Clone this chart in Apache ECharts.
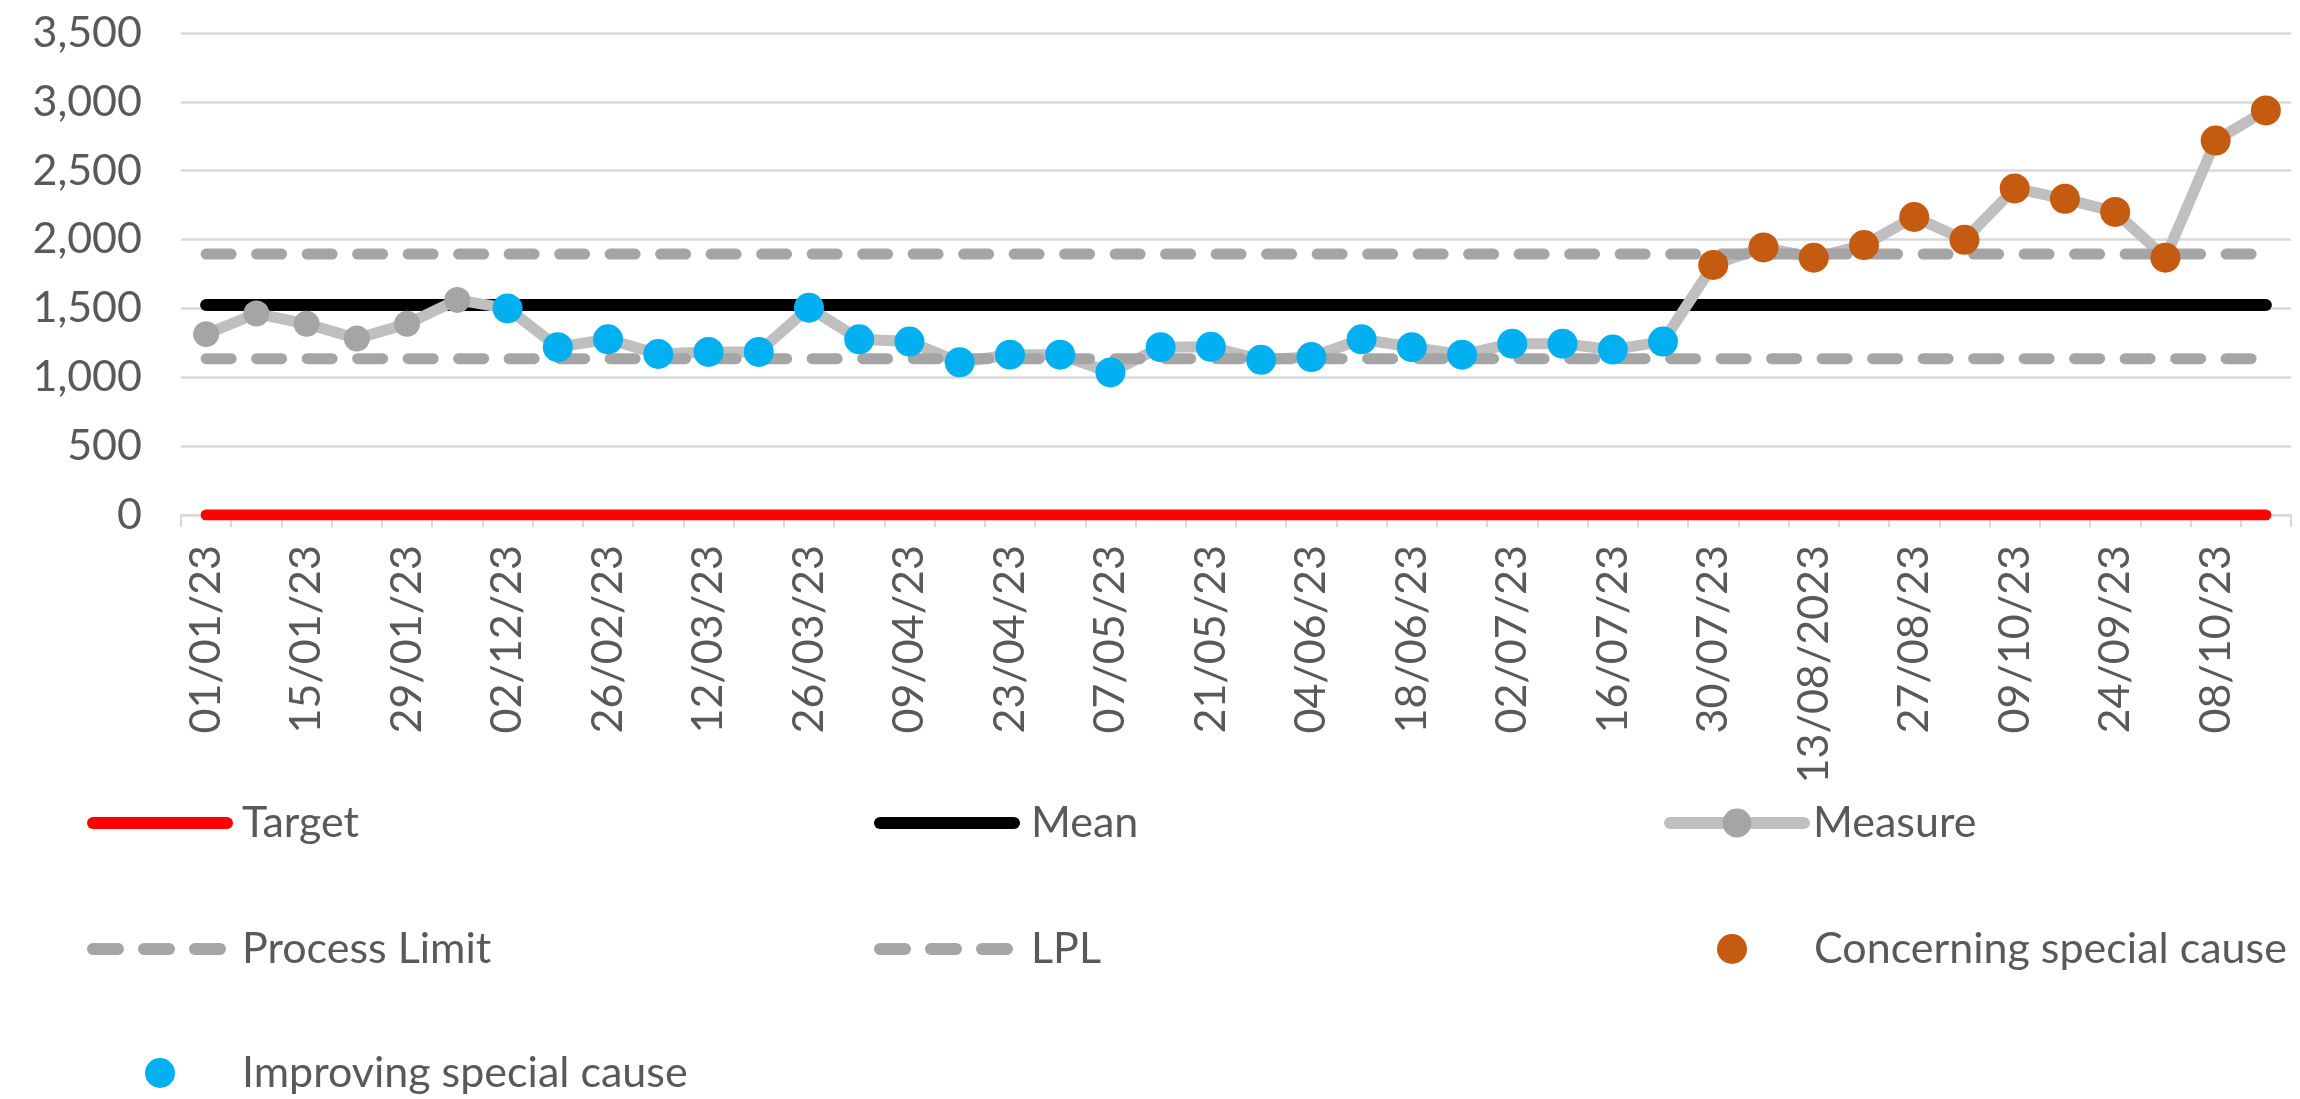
<!DOCTYPE html>
<html>
<head>
<meta charset="utf-8">
<script src="https://cdn.jsdelivr.net/npm/echarts@6/dist/echarts.min.js"></script>
<style>
  html, body { margin: 0; padding: 0; background: #ffffff; }
  #chart { width: 2300px; height: 1099px; }
</style>
</head>
<body>
<div id="chart"></div>
<script>
// Weekly reporting periods (labels exactly as entered in the source sheet)
const weeks = [
  '01/01/23', '08/01/23', '15/01/23', '22/01/23', '29/01/23', '05/02/23',
  '02/12/23', '19/02/23', '26/02/23', '05/03/23', '12/03/23', '19/03/23',
  '26/03/23', '02/04/23', '09/04/23', '16/04/23', '23/04/23', '30/04/23',
  '07/05/23', '14/05/23', '21/05/23', '28/05/23', '04/06/23', '11/06/23',
  '18/06/23', '25/06/23', '02/07/23', '09/07/23', '16/07/23', '23/07/23',
  '30/07/23', '06/08/23', '13/08/2023', '20/08/23', '27/08/23', '03/09/23',
  '09/10/23', '17/09/23', '24/09/23', '01/10/23', '08/10/23', '15/10/23'
];

// Weekly measure
const measure = [
  1313, 1463, 1388, 1281, 1388, 1562,
  1500, 1219, 1276, 1169, 1184, 1184,
  1505, 1276, 1259, 1109, 1164, 1164,
  1035, 1219, 1221, 1127, 1147, 1276,
  1219, 1164, 1244, 1244, 1201, 1259,
  1816, 1943, 1868, 1960, 2164, 1998,
  2371, 2296, 2201, 1868, 2719, 2938
];

// SPC signal per week: '' none, 'I' improving special cause, 'C' concerning special cause
const signal = [
  '', '', '', '', '', '',
  'I', 'I', 'I', 'I', 'I', 'I',
  'I', 'I', 'I', 'I', 'I', 'I',
  'I', 'I', 'I', 'I', 'I', 'I',
  'I', 'I', 'I', 'I', 'I', 'I',
  'C', 'C', 'C', 'C', 'C', 'C',
  'C', 'C', 'C', 'C', 'C', 'C'
];

// Reference levels
const targetLevel = 0;
const meanLevel = 1525;
const upperProcessLimit = 1895;
const lowerProcessLimit = 1135;

// Value axis ticks
const yTicks = [0, 500, 1000, 1500, 2000, 2500, 3000, 3500];

const FONT = 'Lato';
const TEXT_COLOR = '#595959';

const constantLine = (v) => weeks.map(() => v);
const signalPoints = (code) => measure.map((v, i) => (signal[i] === code ? v : '-'));

const lineIcon = 'path://M6,0H140A6,6 0 0 1 140,12H6A6,6 0 0 1 6,0Z';
const dashIcon = 'path://M6,0H31A6,6 0 0 1 31,12H6A6,6 0 0 1 6,0Z' +
  'M57,0H82A6,6 0 0 1 82,12H57A6,6 0 0 1 57,0Z' +
  'M108,0H133A6,6 0 0 1 133,12H108A6,6 0 0 1 108,0Z';

const legendText = { fontFamily: FONT, fontSize: 43, color: TEXT_COLOR, lineHeight: 50 };

function legendItem(name, icon, left, top, w, h, pad, extra) {
  return Object.assign({
    data: [icon ? { name: name, icon: icon } : { name: name }],
    left: left,
    top: top,
    orient: 'horizontal',
    padding: 0,
    itemWidth: w,
    itemHeight: h,
    selectedMode: false,
    textStyle: Object.assign({ padding: [0, 0, 0, pad] }, legendText)
  }, extra || {});
}

const row1 = 798, row2 = 924, row3 = 1048;

const chart = echarts.init(document.getElementById('chart'), null, { renderer: 'canvas' });

chart.setOption({
  animation: false,
  backgroundColor: '#ffffff',
  grid: { left: 181, right: 9, top: 33, bottom: 584, containLabel: false, outerBoundsMode: 'none' },
  legend: [
    legendItem('Target', lineIcon, 87, row1, 146, 12, 4),
    legendItem('Mean', lineIcon, 874, row1, 146, 12, 6),
    legendItem('Measure', null, 1664, row1, 134, 36, 4, { lineStyle: { width: 12, cap: 'round' } }),
    legendItem('Process Limit', dashIcon, 87, row2, 139, 12, 11),
    legendItem('LPL', dashIcon, 874, row2, 139, 12, 13),
    legendItem('Concerning special cause', 'circle', 1717, row2, 30, 30, 62),
    legendItem('Improving special cause', 'circle', 145, row3, 30, 30, 62)
  ],
  xAxis: {
    type: 'category',
    data: weeks,
    boundaryGap: true,
    axisLine: { show: true, lineStyle: { color: '#D9D9D9', width: 2 } },
    axisTick: { show: true, interval: 0, alignWithLabel: false, length: 12, lineStyle: { color: '#D9D9D9', width: 2 } },
    axisLabel: {
      interval: 1,
      rotate: 90,
      margin: 30,
      fontFamily: FONT,
      fontSize: 43,
      color: TEXT_COLOR
    },
    splitLine: { show: false }
  },
  yAxis: {
    type: 'value',
    min: yTicks[0],
    max: yTicks[yTicks.length - 1],
    interval: yTicks[1] - yTicks[0],
    axisLine: { show: false },
    axisTick: { show: false },
    axisLabel: {
      margin: 39,
      fontFamily: FONT,
      fontSize: 43,
      color: TEXT_COLOR,
      formatter: (v) => v.toLocaleString('en-US')
    },
    splitLine: { show: true, lineStyle: { color: '#D9D9D9', width: 2.5 } }
  },
  series: [
    {
      name: 'Target',
      type: 'line',
      data: constantLine(targetLevel),
      symbol: 'none',
      lineStyle: { color: '#FF0000', width: 11, cap: 'round' },
      itemStyle: { color: '#FF0000' }
    },
    {
      name: 'Mean',
      type: 'line',
      data: constantLine(meanLevel),
      symbol: 'none',
      lineStyle: { color: '#000000', width: 12, cap: 'round' },
      itemStyle: { color: '#000000' }
    },
    {
      name: 'Measure',
      type: 'line',
      data: measure,
      symbol: 'circle',
      symbolSize: 26,
      showAllSymbol: true,
      lineStyle: { color: '#BFBFBF', width: 11, cap: 'round', join: 'round' },
      itemStyle: { color: '#A5A5A5' }
    },
    {
      name: 'Process Limit',
      type: 'line',
      data: constantLine(upperProcessLimit),
      symbol: 'none',
      lineStyle: { color: '#A5A5A5', width: 11, type: [25, 25.5], cap: 'round' },
      itemStyle: { color: '#A5A5A5' }
    },
    {
      name: 'LPL',
      type: 'line',
      data: constantLine(lowerProcessLimit),
      symbol: 'none',
      lineStyle: { color: '#A5A5A5', width: 11, type: [25, 25.5], cap: 'round' },
      itemStyle: { color: '#A5A5A5' }
    },
    {
      name: 'Concerning special cause',
      type: 'scatter',
      z: 5,
      data: signalPoints('C'),
      symbol: 'circle',
      symbolSize: 30,
      itemStyle: { color: '#C55A11', opacity: 1 }
    },
    {
      name: 'Improving special cause',
      type: 'scatter',
      z: 5,
      data: signalPoints('I'),
      symbol: 'circle',
      symbolSize: 30,
      itemStyle: { color: '#00B0F0', opacity: 1 }
    }
  ]
});
</script>
</body>
</html>
